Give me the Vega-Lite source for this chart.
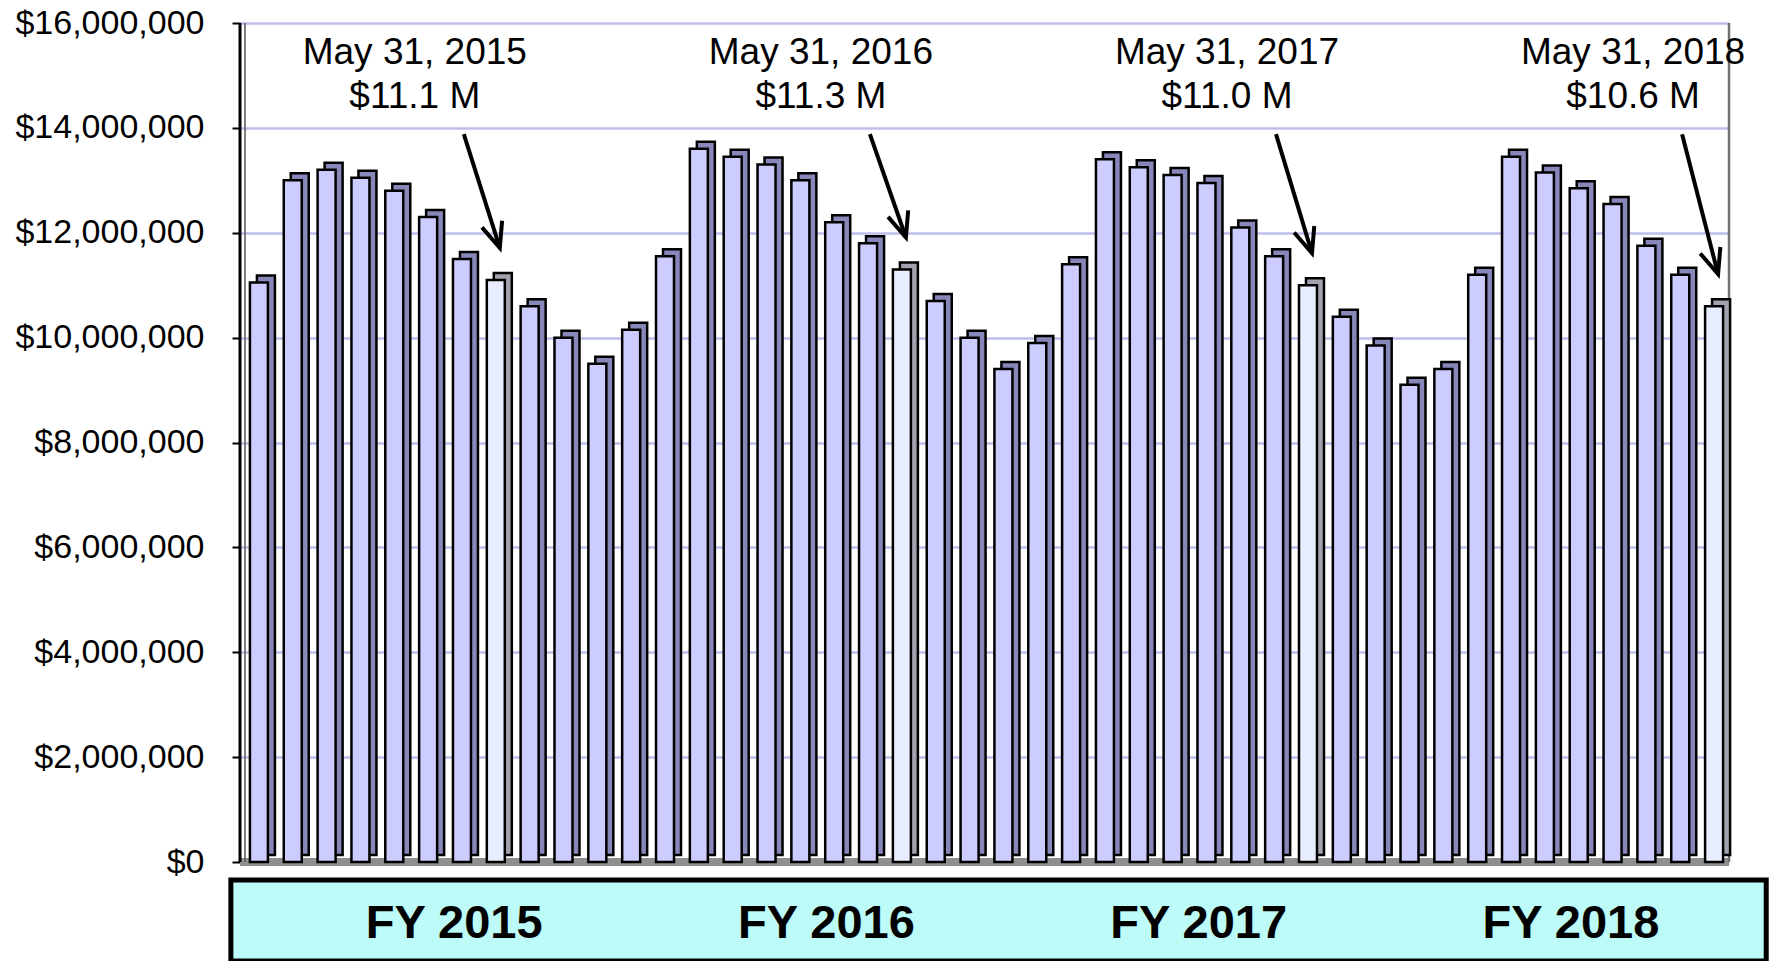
{
  "$schema": "https://vega.github.io/schema/vega-lite/v6.json",
  "width": 1489,
  "height": 938,
  "autosize": {"type": "none"},
  "padding": {"left": 240, "top": 23, "right": 41, "bottom": 0},
  "background": "white",
  "config": {
    "view": {"stroke": null},
    "font": "Liberation Sans",
    "axisY": {
      "labelFont": "Liberation Sans",
      "labelFontSize": 34,
      "labelColor": "black",
      "labelLimit": 0,
      "tickColor": "black",
      "tickSize": 8,
      "tickWidth": 2,
      "labelPadding": 28,
      "domain": false,
      "grid": true,
      "gridColor": "#BEBEEC",
      "gridWidth": 2.5,
      "title": null
    }
  },
  "datasets": {
    "sales": [
      {"m": "Oct 2014", "fy": "FY 2015", "v": 11050000},
      {"m": "Nov 2014", "fy": "FY 2015", "v": 13000000},
      {"m": "Dec 2014", "fy": "FY 2015", "v": 13200000},
      {"m": "Jan 2015", "fy": "FY 2015", "v": 13050000},
      {"m": "Feb 2015", "fy": "FY 2015", "v": 12800000},
      {"m": "Mar 2015", "fy": "FY 2015", "v": 12300000},
      {"m": "Apr 2015", "fy": "FY 2015", "v": 11500000},
      {"m": "May 2015", "fy": "FY 2015", "v": 11100000, "d": "May 31, 2015", "a": "$11.1 M"},
      {"m": "Jun 2015", "fy": "FY 2015", "v": 10600000},
      {"m": "Jul 2015", "fy": "FY 2015", "v": 10000000},
      {"m": "Aug 2015", "fy": "FY 2015", "v": 9500000},
      {"m": "Sep 2015", "fy": "FY 2015", "v": 10150000},
      {"m": "Oct 2015", "fy": "FY 2016", "v": 11550000},
      {"m": "Nov 2015", "fy": "FY 2016", "v": 13600000},
      {"m": "Dec 2015", "fy": "FY 2016", "v": 13450000},
      {"m": "Jan 2016", "fy": "FY 2016", "v": 13300000},
      {"m": "Feb 2016", "fy": "FY 2016", "v": 13000000},
      {"m": "Mar 2016", "fy": "FY 2016", "v": 12200000},
      {"m": "Apr 2016", "fy": "FY 2016", "v": 11800000},
      {"m": "May 2016", "fy": "FY 2016", "v": 11300000, "d": "May 31, 2016", "a": "$11.3 M"},
      {"m": "Jun 2016", "fy": "FY 2016", "v": 10700000},
      {"m": "Jul 2016", "fy": "FY 2016", "v": 10000000},
      {"m": "Aug 2016", "fy": "FY 2016", "v": 9400000},
      {"m": "Sep 2016", "fy": "FY 2016", "v": 9900000},
      {"m": "Oct 2016", "fy": "FY 2017", "v": 11400000},
      {"m": "Nov 2016", "fy": "FY 2017", "v": 13400000},
      {"m": "Dec 2016", "fy": "FY 2017", "v": 13250000},
      {"m": "Jan 2017", "fy": "FY 2017", "v": 13100000},
      {"m": "Feb 2017", "fy": "FY 2017", "v": 12950000},
      {"m": "Mar 2017", "fy": "FY 2017", "v": 12100000},
      {"m": "Apr 2017", "fy": "FY 2017", "v": 11550000},
      {"m": "May 2017", "fy": "FY 2017", "v": 11000000, "d": "May 31, 2017", "a": "$11.0 M"},
      {"m": "Jun 2017", "fy": "FY 2017", "v": 10400000},
      {"m": "Jul 2017", "fy": "FY 2017", "v": 9850000},
      {"m": "Aug 2017", "fy": "FY 2017", "v": 9100000},
      {"m": "Sep 2017", "fy": "FY 2017", "v": 9400000},
      {"m": "Oct 2017", "fy": "FY 2018", "v": 11200000},
      {"m": "Nov 2017", "fy": "FY 2018", "v": 13450000},
      {"m": "Dec 2017", "fy": "FY 2018", "v": 13150000},
      {"m": "Jan 2018", "fy": "FY 2018", "v": 12850000},
      {"m": "Feb 2018", "fy": "FY 2018", "v": 12550000},
      {"m": "Mar 2018", "fy": "FY 2018", "v": 11750000},
      {"m": "Apr 2018", "fy": "FY 2018", "v": 11200000},
      {"m": "May 2018", "fy": "FY 2018", "v": 10600000, "d": "May 31, 2018", "a": "$10.6 M"}
    ],
    "frame": [{"part": "frame"}]
  },
  "layer": [
    {
      "data": {"name": "frame"},
      "layer": [
        {
          "mark": {"type": "rect", "fill": "#BCFBF8", "stroke": "black", "strokeWidth": 5},
          "encoding": {
            "x": {"datum": -0.27, "type": "quantitative", "scale": {"domain": [0, 44], "nice": false, "zero": false}, "axis": null},
            "x2": {"datum": 45.1},
            "y": {"datum": -343000, "type": "quantitative"},
            "y2": {"datum": -1887000}
          }
        },
        {
          "mark": {"type": "rule", "color": "#8F8F8F", "strokeWidth": 8},
          "encoding": {
            "x": {"datum": 0, "type": "quantitative", "axis": null},
            "x2": {"datum": 44},
            "y": {"datum": 0, "type": "quantitative"}
          }
        },
        {
          "mark": {"type": "rule", "color": "#555555", "strokeWidth": 1.5, "xOffset": 5},
          "encoding": {
            "x": {"datum": 0, "type": "quantitative", "axis": null},
            "y": {"datum": 0, "type": "quantitative"},
            "y2": {"datum": 16000000}
          }
        },
        {
          "mark": {"type": "rule", "color": "black", "strokeWidth": 3},
          "encoding": {
            "x": {"datum": 0, "type": "quantitative", "axis": null},
            "y": {"datum": 0, "type": "quantitative"},
            "y2": {"datum": 16000000}
          }
        },
        {
          "mark": {"type": "rule", "color": "#707070", "strokeWidth": 2.5},
          "encoding": {
            "x": {"datum": 44, "type": "quantitative", "axis": null},
            "y": {"datum": 0, "type": "quantitative"},
            "y2": {"datum": 16000000}
          }
        }
      ]
    },
    {
      "data": {"name": "sales"},
      "layer": [
        {
          "mark": {"type": "bar", "width": 18, "xOffset": 9, "yOffset": -7, "stroke": "black", "strokeWidth": 2.5},
          "encoding": {
            "x": {"field": "m", "type": "ordinal", "sort": null, "scale": {"paddingInner": 0, "paddingOuter": 0}, "axis": null},
            "y": {
              "field": "v", "type": "quantitative",
              "scale": {"domain": [-1887000, 16000000], "nice": false, "zero": false},
              "axis": {"values": [0, 2000000, 4000000, 6000000, 8000000, 10000000, 12000000, 14000000, 16000000], "format": "$,.0f"}
            },
            "fill": {"condition": {"test": "indexof(datum.m, 'May') == 0", "value": "#A2A2AE"}, "value": "#8787BA"}
          }
        },
        {
          "mark": {"type": "bar", "width": 18, "xOffset": 2, "stroke": "black", "strokeWidth": 2.5},
          "encoding": {
            "x": {"field": "m", "type": "ordinal", "sort": null, "axis": null},
            "y": {"field": "v", "type": "quantitative"},
            "fill": {"condition": {"test": "indexof(datum.m, 'May') == 0", "value": "#E8EEFF"}, "value": "#CCCCFF"}
          }
        },
        {
          "transform": [{"filter": "isValid(datum.d)"}],
          "mark": {"type": "text", "fontSize": 37, "color": "black", "dx": -79, "baseline": "middle"},
          "encoding": {
            "x": {"field": "m", "type": "ordinal", "sort": null, "axis": null},
            "y": {"datum": 15420000, "type": "quantitative"},
            "text": {"field": "d"}
          }
        },
        {
          "transform": [{"filter": "isValid(datum.d)"}],
          "mark": {"type": "text", "fontSize": 37, "color": "black", "dx": -79, "baseline": "middle"},
          "encoding": {
            "x": {"field": "m", "type": "ordinal", "sort": null, "axis": null},
            "y": {"datum": 14580000, "type": "quantitative"},
            "text": {"field": "a"}
          }
        },
        {
          "transform": [{"filter": "isValid(datum.d)"}],
          "mark": {"type": "rule", "color": "black", "strokeWidth": 4, "x2Offset": -30, "xOffset": 6, "yOffset": -32},
          "encoding": {
            "x": {"field": "m", "type": "ordinal", "sort": null, "axis": null},
            "x2": {"field": "m"},
            "y": {"field": "v", "type": "quantitative"},
            "y2": {"datum": 13880000}
          }
        },
        {
          "transform": [{"filter": "isValid(datum.d)"}],
          "mark": {"type": "point", "shape": "M-0.8,-1.9L0,0L0.8,-1.9", "size": 700, "filled": false, "stroke": "black", "strokeWidth": 4, "opacity": 1, "angle": 342, "xOffset": 6, "yOffset": -32},
          "encoding": {
            "x": {"field": "m", "type": "ordinal", "sort": null, "axis": null},
            "y": {"field": "v", "type": "quantitative"}
          }
        }
      ]
    },
    {
      "data": {"name": "sales"},
      "transform": [{"aggregate": [{"op": "count", "as": "months"}], "groupby": ["fy"]}],
      "mark": {"type": "text", "fontSize": 47, "fontWeight": "bold", "color": "black", "baseline": "middle", "dx": 28},
      "encoding": {
        "x": {"field": "fy", "type": "ordinal", "sort": "ascending", "scale": {"paddingInner": 0, "paddingOuter": 0}, "axis": null},
        "y": {"datum": -1180000, "type": "quantitative"},
        "text": {"field": "fy"}
      }
    }
  ],
  "resolve": {"scale": {"x": "independent"}}
}
